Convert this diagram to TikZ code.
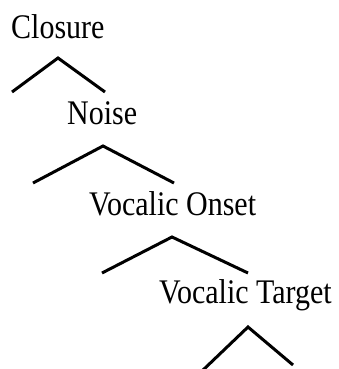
\documentclass[tikz,border=0pt]{standalone}
\usepackage{fontspec}
\setmainfont{Liberation Serif}
\begin{document}
\begin{tikzpicture}[x=1pt,y=-1pt,
  lbl/.style={anchor=base west,inner sep=0pt,font=\fontsize{30}{33}\selectfont},
  caret/.style={line width=3pt,line join=miter}]
\useasboundingbox (0,0) rectangle (339,369);
\newcommand{\tall}[1]{\scalebox{1}[1.15]{#1}}
\node[lbl] (closure) at (11,38) {\tall{Closure}};
\node[lbl] (noise) at (67,124) {\tall{Noise}};
\node[lbl] (onset) at (89,215) {\tall{Vocalic Onset}};
\node[lbl] (target) at (159,303) {\tall{Vocalic Target}};
% carets
\coordinate (p1) at (58,58); \coordinate (l1) at (12,92); \coordinate (r1) at (105,92);
\coordinate (p2) at (103,146); \coordinate (l2) at (33,183); \coordinate (r2) at (174,183);
\coordinate (p3) at (172,237); \coordinate (l3) at (102,273); \coordinate (r3) at (248,273);
\coordinate (p4) at (248,327); \coordinate (l4) at (202,371); \coordinate (r4) at (293,365);
\draw[caret] (l1) -- (p1) -- (r1);
\draw[caret] (l2) -- (p2) -- (r2);
\draw[caret] (l3) -- (p3) -- (r3);
\draw[caret] (l4) -- (p4) -- (r4);
\end{tikzpicture}
\end{document}
